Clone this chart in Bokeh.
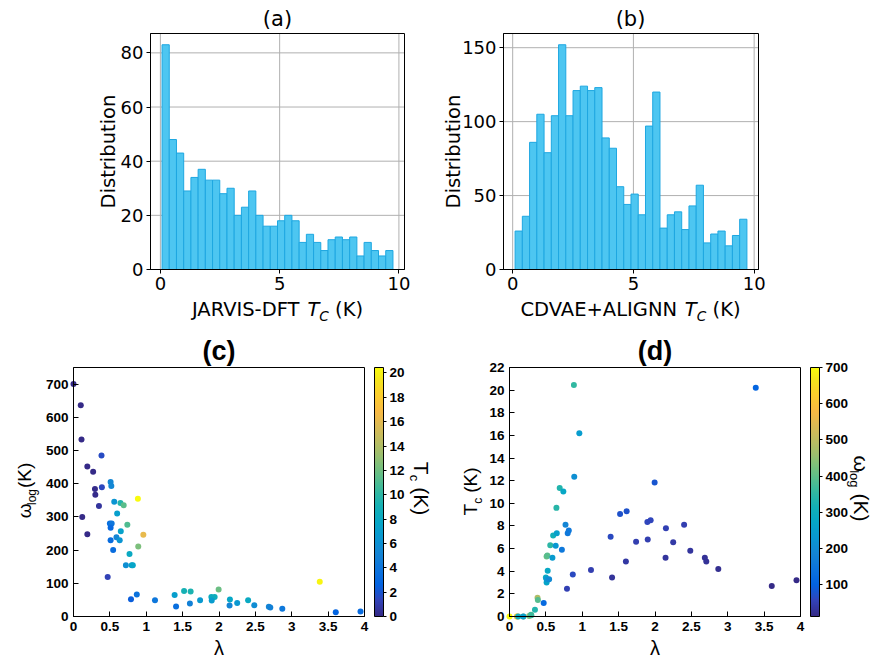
import math
import numpy as np
from bokeh.plotting import figure
from bokeh.layouts import gridplot
from bokeh.models import (ColumnDataSource, FixedTicker, ColorBar, LinearColorMapper,
                          Label, CustomJSTickFormatter, Range1d, BoxAnnotation)
from bokeh.embed import file_html
from bokeh.resources import INLINE

# ---------------- data ----------------
jarvis_counts = [83, 48, 43, 29, 34, 37, 33, 33, 28, 30, 20, 23, 29, 20, 16, 16,
                 18, 20, 18, 10, 13, 10, 7, 11, 12, 11, 12, 5, 10, 7, 5, 7]
jarvis_bin_start = 0.07
jarvis_bin_width = 0.3025

cdvae_counts = [26, 36, 86, 105, 79, 104, 152, 104, 121, 124, 121, 123, 89, 82, 56, 44,
                51, 37, 97, 120, 28, 37, 39, 27, 43, 57, 18, 24, 26, 16, 23, 34]
cdvae_bin_start = 0.10
cdvae_bin_width = 0.30

lam = [0.00, 0.10, 0.11, 0.385, 0.19, 0.27, 0.51, 0.52, 0.295, 0.39,
       0.30, 0.35, 0.56, 0.645, 0.69, 0.885, 0.12, 0.60, 0.50, 0.525,
       0.51, 0.74, 0.19, 0.96, 0.65, 0.59, 0.635, 0.51, 0.89, 0.545,
       0.77, 0.72, 0.80, 0.815, 0.47, 0.87, 0.79, 1.12, 1.39, 1.41,
       1.52, 1.61, 1.60, 1.74, 1.895, 1.94, 1.90, 1.995, 2.15, 2.145,
       2.25, 2.40, 2.485, 2.685, 2.705, 2.87, 3.385, 3.605, 3.945]
omega_log = [700, 636, 533, 485, 452, 436, 405, 393, 384, 389,
             367, 333, 346, 342, 335, 355, 300, 310, 280, 280,
             267, 276, 248, 246, 257, 239, 230, 230, 211, 200,
             188, 154, 154, 154, 119, 66, 52, 49, 65, 30,
             77, 75, 39, 49, 59, 59, 48, 81, 51, 33,
             41, 49, 34, 29, 27, 23, 105, 13, 15]
tc = [0.0, 0.0, 0.0, 1.65, 0.0, 0.05, 5.3, 5.4, 0.15, 1.45,
      0.1, 0.6, 6.3, 9.6, 11.35, 20.45, 0.0, 7.15, 3.45, 4.05,
      3.0, 11.05, 0.0, 16.2, 7.35, 5.2, 6.25, 3.3, 12.35, 3.3,
      8.1, 5.9, 7.35, 7.6, 1.2, 3.7, 2.45, 4.1, 7.05, 3.45,
      9.05, 9.3, 4.85, 6.6, 8.35, 8.5, 6.8, 11.85, 7.8, 5.2,
      6.55, 8.1, 5.8, 5.2, 4.85, 4.2, 20.2, 2.7, 3.2]

hist_x_ticks = [0, 5, 10]
jarvis_y_ticks = [0, 20, 40, 60, 80]
cdvae_y_ticks = [0, 50, 100, 150]
lam_ticks = [0, 0.5, 1, 1.5, 2, 2.5, 3, 3.5, 4]
omega_ticks = [0, 100, 200, 300, 400, 500, 600, 700]
tc_ticks = [0, 2, 4, 6, 8, 10, 12, 14, 16, 18, 20, 22]
tc_cbar_ticks = [0, 2, 4, 6, 8, 10, 12, 14, 16, 18, 20]
omega_cbar_ticks = [100, 200, 300, 400, 500, 600, 700]

# ---------------- palette (parula) ----------------
parula_anchors = [
    (0.2081, 0.1663, 0.5292), (0.1959, 0.2645, 0.7279), (0.0117, 0.3875, 0.8820),
    (0.0498, 0.4586, 0.8641), (0.0793, 0.5200, 0.8312), (0.0343, 0.5966, 0.8199),
    (0.0228, 0.6535, 0.7768), (0.0843, 0.6928, 0.7062), (0.2178, 0.7250, 0.6193),
    (0.3953, 0.7459, 0.5244), (0.5709, 0.7485, 0.4494), (0.7184, 0.7411, 0.3905),
    (0.8507, 0.7299, 0.3360), (0.9739, 0.7314, 0.2666), (0.9880, 0.8066, 0.1794),
    (0.9589, 0.8949, 0.1132), (0.9763, 0.9831, 0.0538)]
anchor_pos = np.array([0, 4, 8, 12, 16, 20, 24, 28, 32, 36, 40, 44, 48, 52, 56, 60, 63]) / 63.0
_arr = np.array(parula_anchors)
_t = np.linspace(0, 1, 256)
parula = ["#%02x%02x%02x" % tuple(int(round(255 * np.interp(v, anchor_pos, _arr[:, k]))) for k in range(3))
          for v in _t]

# ---------------- geometry (picture pixels) ----------------
W = 439
H_TOP = 326
H_BOT = 331

BAR_FILL = "#4dc6f1"
BAR_LINE = "#1ea7e1"
BASE_FIX = 0.4   # empirical baseline correction (fraction of font size)


def make_panel(origin, box, xr, yr):
    ox, oy, w, h = origin
    bl, bt, br, bb = box
    x0, x1 = xr
    y0, y1 = yr
    xs = (x1 - x0) / (br - bl)
    ys = (y1 - y0) / (bb - bt)
    p = figure(width=w, height=h,
               x_range=Range1d(x0 - (bl - ox) * xs, x1 + (ox + w - br) * xs),
               y_range=Range1d(y0 - (oy + h - bb) * ys, y1 + (bt - oy) * ys),
               output_backend="svg", toolbar_location=None, min_border=0)
    p.outline_line_color = None
    p.background_fill_color = "white"
    p.border_fill_color = "white"
    p.grid.visible = False
    p.xaxis.fixed_location = y0
    p.yaxis.fixed_location = x0
    p.xaxis.bounds = (x0, x1)
    p.yaxis.bounds = (y0, y1)
    p.add_layout(BoxAnnotation(left=x0, right=x1, bottom=y0, top=y1, fill_color=None,
                               fill_alpha=0, line_color="black", line_width=1, line_alpha=1))
    return p


def put(p, origin, px, py, text, size, font, style="normal", align="left",
        angle=0.0, color="black"):
    ox, oy, w, h = origin
    k = BASE_FIX * size
    px += -math.sin(angle) * k
    py += -math.cos(angle) * k
    p.add_layout(Label(x=px - ox, y=(oy + h) - py, x_units="screen", y_units="screen",
                       text=text, text_font=font, text_font_size=f"{size}px",
                       text_font_style=style, text_align=align, text_baseline="alphabetic",
                       angle=angle, text_color=color))


DJV = {' ': 318, '(': 390, ')': 390, '+': 838, '-': 361, 'A': 684, 'C': 698, 'D': 770,
       'E': 632, 'F': 575, 'G': 775, 'I': 295, 'J': 295, 'K': 656, 'L': 557, 'N': 748,
       'R': 695, 'S': 635, 'T': 611, 'V': 684}
ARL = {' ': 278, '(': 333, ')': 333, 'K': 667, 'T': 611, 'c': 500, 'l': 222, 'o': 556,
       'g': 556, 'ω': 700}


def tw(s, size, table):
    return sum(table.get(c, 600) for c in s) / 1000.0 * size


def hx_label(p, origin, cx, base_y, prefix):
    size, sub = 19.5, 13.7
    sp = tw(" ", size, DJV)
    # (text, size, style, drop, gap before)
    pieces = [(prefix, size, "normal", 0, 0), ("T", size, "italic", 0, sp),
              ("C", sub, "italic", 4, 0), ("(K)", size, "normal", 0, sp)]
    total = sum(tw(t, s, DJV) + g for t, s, _, _, g in pieces)
    x = cx - total / 2
    for t, s, st, d, g in pieces:
        x += g
        put(p, origin, x, base_y + d, t, s, "DejaVu Sans", st)
        x += tw(t, s, DJV)


def style_axes(p, xt, yt, font, size, style, tick_in, tick_out, standoff, formatter=None):
    for ax, ticks in ((p.xaxis[0], xt), (p.yaxis[0], yt)):
        ax.ticker = FixedTicker(ticks=ticks)
        if formatter is not None:
            ax.formatter = CustomJSTickFormatter(code=formatter)
        ax.major_tick_out = tick_out
        ax.major_tick_in = tick_in
        ax.minor_tick_line_color = None
        ax.axis_line_color = "black"
        ax.major_tick_line_color = "black"
        ax.major_label_text_font = font
        ax.major_label_text_font_style = style
        ax.major_label_text_font_size = size
        ax.major_label_text_color = "black"
        ax.major_label_standoff = standoff


def grid_lines(p, xt, yt, xr, yr):
    p.segment(x0=xt, x1=xt, y0=[yr[0]] * len(xt), y1=[yr[1]] * len(xt),
              line_color="#b0b0b0", line_width=1, level="underlay")
    p.segment(x0=[xr[0]] * len(yt), x1=[xr[1]] * len(yt), y0=yt, y1=yt,
              line_color="#b0b0b0", line_width=1, level="underlay")


def vlabel(p, origin, x_base, y_center, pieces, direction):
    # pieces: (text, size, subscript shift, gap before); direction +1 reads upward, -1 downward
    total = sum(tw(t, s, ARL) + g for t, s, _, g in pieces)
    if direction > 0:
        y = y_center + total / 2
        for t, s, d, g in pieces:
            y -= g
            put(p, origin, x_base + d, y, t, s, "Liberation Sans", angle=math.pi / 2)
            y -= tw(t, s, ARL)
    else:
        y = y_center - total / 2
        for t, s, d, g in pieces:
            y += g
            put(p, origin, x_base - d, y, t, s, "Liberation Sans", angle=-math.pi / 2)
            y += tw(t, s, ARL)


def hist_range(start, width, n):
    lo, hi = start, start + width * n
    m = 0.05 * (hi - lo)
    return (lo - m, hi + m)


def colorbar(mapper, ticks, x, y, h):
    return ColorBar(color_mapper=mapper, location=(x, y), width=9, height=h,
                    padding=0, margin=0, ticker=FixedTicker(ticks=ticks),
                    major_label_text_font="Liberation Sans", major_label_text_font_style="bold",
                    major_label_text_font_size="13.5px", major_label_text_color="black",
                    major_tick_in=0, major_tick_out=3, major_tick_line_color="black",
                    minor_tick_line_color=None, bar_line_color="black", border_line_color=None,
                    background_fill_color=None, label_standoff=3)


# ---------------- (a) ----------------
OA = (0, 0, W, H_TOP)
BA = (150, 33, 404, 269)
n_a = len(jarvis_counts)
xr_a = hist_range(jarvis_bin_start, jarvis_bin_width, n_a)
yr_a = (0, max(jarvis_counts) * 1.05)
pa = make_panel(OA, BA, xr_a, yr_a)
grid_lines(pa, hist_x_ticks, jarvis_y_ticks, xr_a, yr_a)
left_a = [jarvis_bin_start + i * jarvis_bin_width for i in range(n_a)]
pa.quad(left=left_a, right=[l + jarvis_bin_width for l in left_a], bottom=0, top=jarvis_counts,
        fill_color=BAR_FILL, line_color=BAR_LINE, line_width=1)
style_axes(pa, hist_x_ticks, jarvis_y_ticks, "DejaVu Sans", "18px", "normal", 0, 4, 3)
put(pa, OA, 277, 27, "(a)", 21, "DejaVu Sans", align="center")
put(pa, OA, 116, 151, "Distribution", 19.5, "DejaVu Sans", align="center", angle=math.pi / 2)
hx_label(pa, OA, 277, 317, "JARVIS-DFT")

# ---------------- (b) ----------------
OB = (W, 0, W, H_TOP)
BB = (503, 33, 758, 269)
n_b = len(cdvae_counts)
xr_b = hist_range(cdvae_bin_start, cdvae_bin_width, n_b)
yr_b = (0, max(cdvae_counts) * 1.05)
pb = make_panel(OB, BB, xr_b, yr_b)
grid_lines(pb, hist_x_ticks, cdvae_y_ticks, xr_b, yr_b)
left_b = [cdvae_bin_start + i * cdvae_bin_width for i in range(n_b)]
pb.quad(left=left_b, right=[l + cdvae_bin_width for l in left_b], bottom=0, top=cdvae_counts,
        fill_color=BAR_FILL, line_color=BAR_LINE, line_width=1)
style_axes(pb, hist_x_ticks, cdvae_y_ticks, "DejaVu Sans", "18px", "normal", 0, 4, 3)
put(pb, OB, 630, 27, "(b)", 21, "DejaVu Sans", align="center")
put(pb, OB, 461, 151, "Distribution", 19.5, "DejaVu Sans", align="center", angle=math.pi / 2)
hx_label(pb, OB, 630, 317, "CDVAE+ALIGNN")

src = ColumnDataSource(dict(lam=lam, omega=omega_log, tc=tc))
JSFMT = "return String(tick);"

# ---------------- (c) ----------------
OC = (0, H_TOP, W, H_BOT)
BC = (73, 367, 364, 616)
pc = make_panel(OC, BC, (0, 4), (0, 750))
map_c = LinearColorMapper(palette=parula, low=0, high=max(tc))
pc.scatter("lam", "omega", source=src, size=6, line_color=None,
           fill_color={"field": "tc", "transform": map_c})
style_axes(pc, lam_ticks, omega_ticks, "Liberation Sans", "13.5px", "bold", 5, 0, 5, JSFMT)
pc.add_layout(colorbar(map_c, tc_cbar_ticks, 374 - OC[0], (OC[1] + OC[3]) - BC[3], BC[3] - BC[1]))
put(pc, OC, 218.5, 361, "(c)", 27, "Liberation Sans", style="bold", align="center")
put(pc, OC, 218.5, 655, "λ", 20, "Liberation Sans", align="center")
vlabel(pc, OC, 32, 490, [("ω", 19, 0, 0), ("log", 12, 4, 0), ("(K)", 19, 0, 1)], +1)
vlabel(pc, OC, 413, 488, [("T", 21, 0, 0), ("c", 13, 4, 0), ("(K)", 21, 0, 6)], -1)

# ---------------- (d) ----------------
OD = (W, H_TOP, W, H_BOT)
BD = (509, 367, 800, 616)
pd_ = make_panel(OD, BD, (0, 4), (0, 22))
map_d = LinearColorMapper(palette=parula, low=min(omega_log), high=max(omega_log))
pd_.scatter("lam", "tc", source=src, size=6, line_color=None,
            fill_color={"field": "omega", "transform": map_d})
style_axes(pd_, lam_ticks, tc_ticks, "Liberation Sans", "13.5px", "bold", 5, 0, 5, JSFMT)
pd_.add_layout(colorbar(map_d, omega_cbar_ticks, 810 - OD[0], (OD[1] + OD[3]) - BD[3], BD[3] - BD[1]))
put(pd_, OD, 654.5, 361, "(d)", 27, "Liberation Sans", style="bold", align="center")
put(pd_, OD, 654.5, 655, "λ", 20, "Liberation Sans", align="center")
vlabel(pd_, OD, 478, 491, [("T", 19, 0, 0), ("c", 12, 4, 0), ("(K)", 19, 0, 5)], +1)
vlabel(pd_, OD, 853, 488, [("ω", 21, 0, 0), ("log", 13, 4, 0), ("(K)", 21, 0, 6)], -1)

grid = gridplot([[pa, pb], [pc, pd_]], toolbar_location=None)
open("out.html", "w").write(file_html(grid, INLINE))
